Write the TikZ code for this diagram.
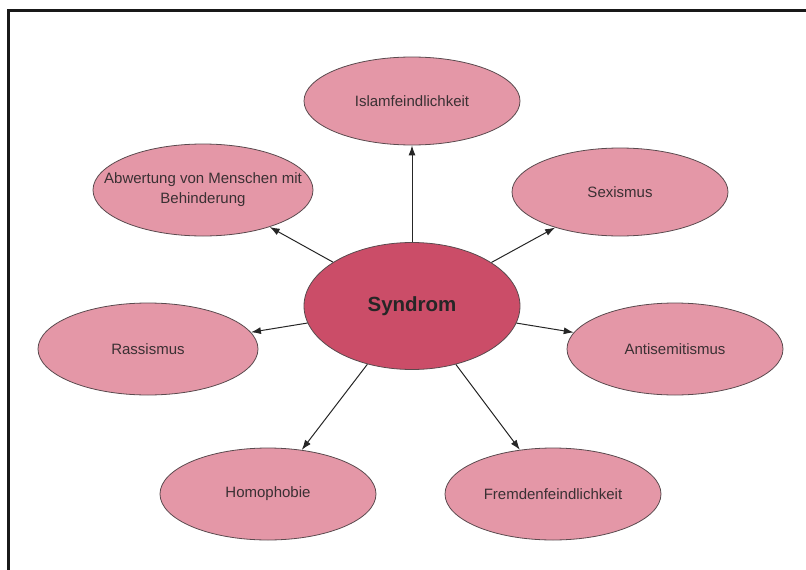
\documentclass[tikz,border=0pt]{standalone}
\usepackage{fontspec}
\setmainfont{Liberation Sans}
\usetikzlibrary{shapes.geometric,arrows.meta}
\definecolor{outerpink}{HTML}{E497A7}
\definecolor{innerpink}{HTML}{CB4D68}
\definecolor{edgegray}{HTML}{5A4A4E}
\definecolor{txtgray}{HTML}{3A3033}
\tikzset{
  outer/.style={ellipse, draw=edgegray, line width=0.8pt, fill=outerpink, inner sep=0pt,
    minimum width=216pt, minimum height=92pt, text=txtgray, font=\fontsize{15}{20}\selectfont, align=center},
  inner/.style={ellipse, draw=edgegray, line width=0.8pt, fill=innerpink, inner sep=0pt,
    minimum width=216pt, minimum height=127pt, text=black!85, font=\fontsize{20.5}{24}\selectfont\bfseries},
  conn/.style={-{Latex[length=10pt,width=7pt]}, line width=1pt, black!85}
}
\begin{document}
\begin{tikzpicture}[x=1pt,y=-1pt]
\useasboundingbox (0,0) rectangle (806,570);
\draw[line width=3pt, black!90] (8.5,570) -- (8.5,10.5) -- (806,10.5);
\node[inner] (syn) at (412,306) {Syndrom};
\node[outer, minimum height=88pt] (isl) at (412,101) {Islamfeindlichkeit};
\node[outer, minimum width=220pt, inner xsep=-45pt] (abw) at (203,190) {Abwertung von Menschen mit\\Behinderung};
\node[outer, minimum height=88pt] (sex) at (620,192) {Sexismus};
\node[outer, minimum width=220pt] (ras) at (148,349) {Rassismus};
\node[outer] (ant) at (675,349) {Antisemitismus};
\node[outer] (hom) at (268,494) {Homophobie};
\node[outer] (fre) at (553,494) {Fremdenfeindlichkeit};
\foreach \t in {isl,abw,sex,ras,ant,hom,fre}
  \draw[conn] (syn) -- (\t);
\end{tikzpicture}
\end{document}
